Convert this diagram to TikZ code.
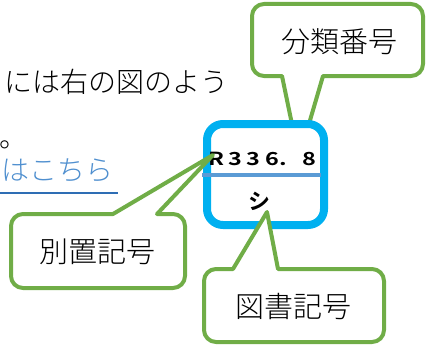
\documentclass[tikz,border=0pt]{standalone}
\usepackage{fontspec}
\usepackage{graphicx}
\newfontfamily\jp{Noto Sans CJK JP Light}
\newfontfamily\jpb{Noto Sans CJK JP Bold}
\definecolor{boxblue}{HTML}{00B0F0}
\definecolor{divblue}{HTML}{5B9BD5}
\definecolor{callgreen}{HTML}{70AD47}
\definecolor{linkblue}{HTML}{4F8FCF}
\definecolor{ulblue}{HTML}{2E6DB4}
\newcommand\cbx[1]{\makebox[18.6pt]{\scalebox{1.3}[1]{#1}}}
\newcommand\topcallout[7]{%
  \draw[callout] (#1+12,#2) -- (#5,#2) -- (#7) -- (#6,#2) -- (#3-12,#2)
    arc[start angle=270,end angle=360,radius=12] -- (#3,#4-12)
    arc[start angle=0,end angle=90,radius=12] -- (#1+12,#4)
    arc[start angle=90,end angle=180,radius=12] -- (#1,#2+12)
    arc[start angle=180,end angle=270,radius=12] -- cycle;}
\begin{document}
\begin{tikzpicture}[x=1pt,y=-1pt,
  callout/.style={draw=callgreen,line width=4pt,fill=white,line join=round},
  calltext/.style={font=\jp\fontsize{29}{29}\selectfont,inner sep=0pt},
  bodytext/.style={font=\jp\fontsize{28}{28}\selectfont,inner sep=0pt,anchor=base west},
  catbox/.style={draw=boxblue,line width=8pt,fill=white,rounded corners=16pt,
    minimum width=117pt,minimum height=101pt,inner sep=0pt},
  divider/.style={draw=divblue,line width=3.5pt}]
\useasboundingbox (0,0) rectangle (430,345);
% body text
\node[bodytext] (l1) at (4,92) {には右の図のよう};
\node[bodytext] (l2) at (-1,147) {。};
\node[bodytext,text=linkblue] (l3) at (1,180) {はこちら};
\draw[ulblue,line width=1.5pt] (0,193) -- (118,193);
% tips
\coordinate (fbtip) at (299,158);
\coordinate (bttip) at (213,155);
\coordinate (zttip) at (267,212);
% callout 分類番号 (behind the box)
\draw[callout] (264,4) -- (411,4)
    arc[start angle=270,end angle=360,radius=12] -- (423,64)
    arc[start angle=0,end angle=90,radius=12] -- (323,76) -- (fbtip) -- (282,76) -- (264,76)
    arc[start angle=90,end angle=180,radius=12] -- (252,16)
    arc[start angle=180,end angle=270,radius=12] -- cycle;
\node[calltext] (fb) at (339,42) {分類番号};
% catalogue box
\node[catbox] (cat) at (265.5,174.5) {};
\draw[divider] (202,175) -- (321,175);
\node[font=\jpb\fontsize{18}{18}\selectfont,inner sep=0pt] (code) at (263,159)
  {\cbx{R}\cbx{3}\cbx{3}\cbx{6}\makebox[18.6pt][l]{\hspace{-2pt}\scalebox{1.3}[1]{.}}\cbx{8}};
\node[font=\jpb\fontsize{22}{22}\selectfont,inner sep=0pt] (shi) at (259,201) {シ};
% callout 別置記号
\topcallout{11}{214}{185}{288}{113}{157}{bttip}
\node[calltext] (bt) at (97,252) {別置記号};
% callout 図書記号
\topcallout{204}{269}{384}{342}{233}{278}{zttip}
\node[calltext] (zt) at (293,307) {図書記号};
\end{tikzpicture}
\end{document}
